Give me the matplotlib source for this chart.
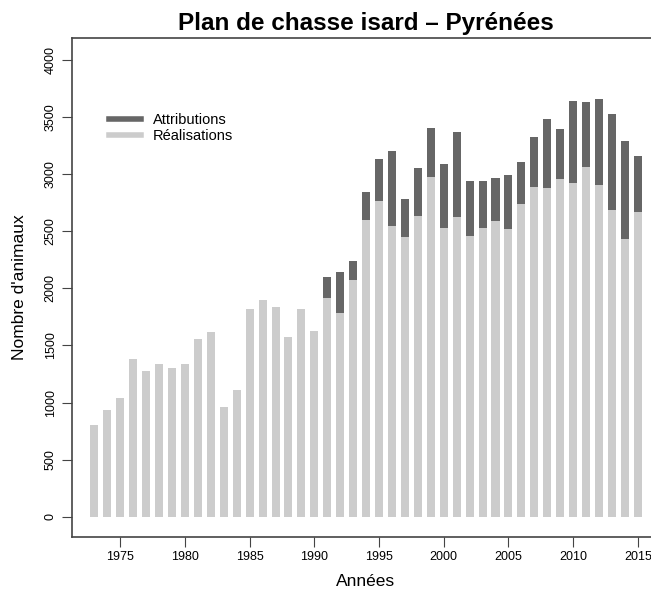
import numpy as np
import matplotlib
matplotlib.use('Agg')
import matplotlib.pyplot as plt
from matplotlib.lines import Line2D

plt.rcParams['font.family'] = ['Liberation Sans', 'DejaVu Sans']

annees = np.arange(1973, 2016)

realisations = [804, 938, 1038, 1381, 1276, 1335, 1303, 1335, 1553, 1620,
                965, 1108, 1816, 1895, 1839, 1574, 1821, 1624, 1912, 1784,
                2072, 2597, 2760, 2542, 2448, 2629, 2975, 2530, 2620, 2460,
                2527, 2591, 2515, 2737, 2885, 2874, 2952, 2917, 3058, 2903,
                2687, 2428, 2664]

# pas d'attributions connues avant 1991
attributions = [np.nan] * 18 + [2101, 2139, 2241, 2844, 3133, 3203, 2783,
                                3049, 3404, 3086, 3370, 2935, 2935, 2961,
                                2993, 3106, 3322, 3480, 3390, 3637, 3626,
                                3657, 3526, 3285, 3159]

col_attr = '#666666'
col_real = '#cccccc'

fig = plt.figure(figsize=(6.51, 5.92), dpi=100)
ax = fig.add_axes([72 / 651, 55 / 592, 600 / 651, 499 / 592])

w = 0.62
ax.bar(annees, attributions, width=w, color=col_attr, label='Attributions')
ax.bar(annees, realisations, width=w, color=col_real, label='Réalisations')

ax.set_xlim(1971.27, 2017.64)
ax.set_ylim(-175, 4188)

ax.set_xticks(np.arange(1975, 2016, 5))
ax.set_yticks(np.arange(0, 4001, 500))
ax.tick_params(axis='x', direction='out', length=7, width=0.8, color='#444444',
               labelsize=9, pad=3)
ax.tick_params(axis='y', direction='out', length=7, width=0.8, color='#444444',
               labelsize=9, pad=4, labelrotation=90)
for lab in ax.get_yticklabels():
    lab.set_va('center')

for s in ax.spines.values():
    s.set_color('#444444')
    s.set_linewidth(1.2)

ax.set_title('Plan de chasse isard – Pyrénées', fontsize=17.5,
             fontweight='bold', pad=6, x=0.489)
ax.set_xlabel('Années', fontsize=12.5)
ax.xaxis.set_label_coords(0.489, -0.075)
ax.set_ylabel("Nombre d'animaux", fontsize=12.5, labelpad=13)

handles = [Line2D([], [], color=col_attr, lw=4),
           Line2D([], [], color=col_real, lw=4)]
ax.legend(handles, ['Attributions', 'Réalisations'], loc='upper left',
          bbox_to_anchor=(0.04, 0.875), frameon=False, fontsize=10.5,
          handlelength=2.2, handletextpad=0.8, labelspacing=0.1)

fig.savefig('out.png', dpi=100)
